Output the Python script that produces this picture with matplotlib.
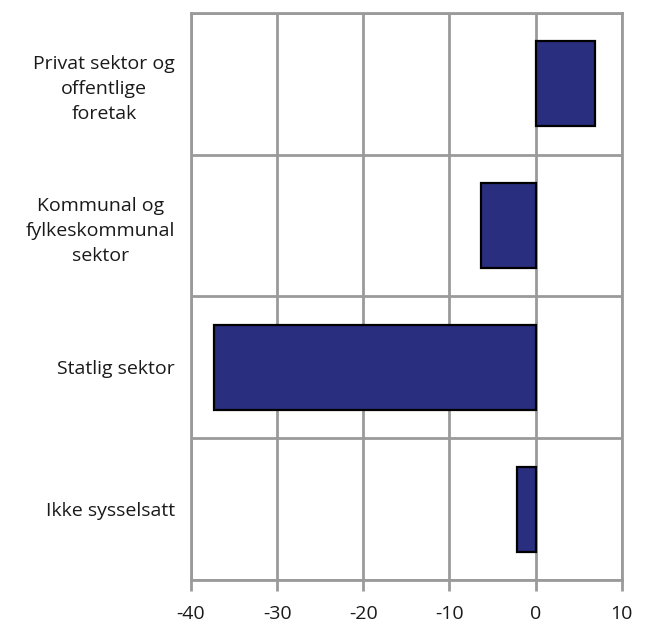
import matplotlib
matplotlib.use('Agg')
import matplotlib.pyplot as plt
import numpy as np

categories = ['Privat sektor og\noffentlige\nforetak',
              'Kommunal og\nfylkeskommunal\nsektor',
              'Statlig sektor',
              'Ikke sysselsatt']
values = [6.9, -6.3, -37.3, -2.1]
xticks = [-40, -30, -20, -10, 0, 10]

plt.rcParams['font.family'] = ['Open Sans', 'DejaVu Sans']
grid_col = '#9a9a9a'
fs = 14

fig = plt.figure(figsize=(6.58, 6.34), dpi=100)
ax = fig.add_axes([0.2903, 0.0852, 0.6545, 0.8943])

y = np.arange(len(categories))
ax.barh(y, values, height=0.6, color='#292e7e', edgecolor='black', linewidth=1.6, zorder=3)

ax.set_xlim(-40, 10)
ax.set_ylim(len(categories) - 0.5, -0.5)
ax.set_xticks(xticks)
ax.set_xticklabels([str(t) for t in xticks], fontsize=fs, color='#1a1a1a')
ax.set_yticks(y)
ax.set_yticklabels(categories, fontsize=fs, multialignment='center',
                   linespacing=1.5, color='#1a1a1a')
ax.set_yticks(np.arange(len(categories) + 1) - 0.5, minor=True)

ax.grid(axis='x', which='major', color=grid_col, linewidth=2, zorder=0)
ax.grid(axis='y', which='minor', color=grid_col, linewidth=2, zorder=0)
ax.tick_params(axis='x', which='major', length=8, width=2, color=grid_col, pad=10)
ax.tick_params(axis='y', which='both', length=0, pad=11.5)
for s in ax.spines.values():
    s.set_color(grid_col)
    s.set_linewidth(2)

fig.savefig('out.png', dpi=100)
